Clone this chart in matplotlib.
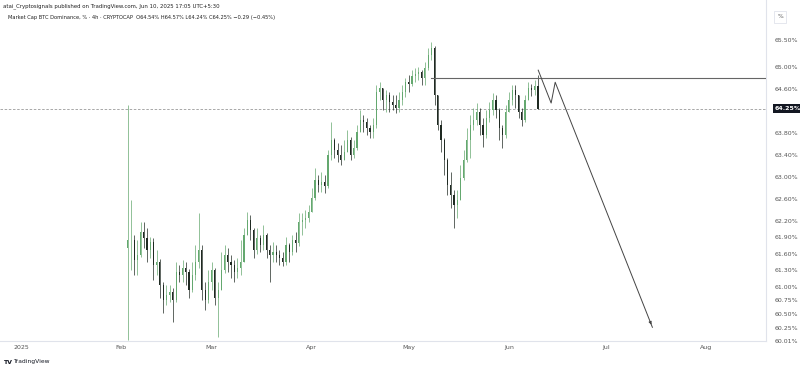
import matplotlib
matplotlib.use("Agg")
import matplotlib.pyplot as plt
import matplotlib.dates as mdates
import matplotlib.transforms as mtransforms
import numpy as np
import pandas as pd

# daily candles, Feb 3 .. Jun 10 2025 (BTC dominance, %)
first_open = 61.70
closes = [
    # Feb 3-28
    61.85, 61.85, 61.49, 61.58, 62.00, 61.89, 61.67, 61.82, 61.40, 61.45, 61.03, 60.76, 60.85,
    60.90, 60.76, 61.27, 61.21, 61.34, 61.27, 60.94, 61.21, 61.45, 61.67, 60.94, 60.76, 61.09,
    # Mar
    61.31, 60.79, 60.94, 61.31, 61.58, 61.45, 61.40, 61.27, 61.34, 61.45, 61.94, 62.22, 62.03,
    61.67, 61.89, 61.76, 61.94, 61.67, 61.58, 61.63, 61.58, 61.52, 61.45, 61.76, 61.63, 61.85,
    61.80, 62.18, 62.22, 62.25, 62.36,
    # Apr
    62.62, 62.95, 62.86, 62.91, 62.84, 63.40, 63.68, 63.49, 63.40, 63.31, 63.46, 63.68, 63.40,
    63.53, 63.82, 64.04, 64.00, 63.90, 63.82, 63.95, 64.55, 64.62, 64.41, 64.50, 64.37, 64.31,
    64.26, 64.41, 64.55, 64.73,
    # May
    64.70, 64.84, 64.88, 64.92, 64.81, 64.99, 65.23, 65.35, 64.50, 63.95, 63.68, 63.31, 62.86,
    62.67, 62.49, 62.58, 62.98, 63.31, 63.68, 63.95, 64.04, 64.19, 63.95, 63.77, 64.08, 64.22,
    64.41, 64.22, 63.90, 63.77, 64.19,
    # Jun 1-10
    64.41, 64.59, 64.50, 64.19, 64.04, 64.41, 64.62, 64.59, 64.66, 64.25,
]
highs = [
    64.31, 62.58, 61.94, 61.85, 62.18, 62.18, 62.07, 61.91, 61.88, 61.67, 61.50, 61.08, 61.03,
    61.03, 60.98, 61.45, 61.40, 61.49, 61.45, 61.32, 61.45, 61.76, 62.35, 61.76, 61.09, 61.31,
    61.45, 61.34, 61.09, 61.63, 61.76, 61.71, 61.58, 61.49, 61.52, 61.85, 62.07, 62.36, 62.31,
    62.08, 62.07, 61.94, 62.13, 61.98, 61.76, 61.82, 61.76, 61.67, 61.63, 61.91, 61.80, 61.94,
    62.00, 62.35, 62.35, 62.40, 62.49,
    62.80, 63.17, 63.04, 63.09, 63.04, 63.49, 64.00, 63.71, 63.62, 63.59, 63.68, 63.86, 63.73,
    63.68, 63.95, 64.22, 64.13, 64.08, 63.95, 64.08, 64.68, 64.73, 64.62, 64.59, 64.55, 64.50,
    64.50, 64.55, 64.68, 64.81,
    64.86, 64.95, 64.99, 65.01, 64.95, 65.10, 65.35, 65.46, 65.40, 64.50, 64.04, 63.71, 63.35,
    63.09, 62.76, 62.76, 63.22, 63.49, 63.90, 64.13, 64.26, 64.35, 64.26, 64.08, 64.22, 64.37,
    64.53, 64.50, 64.26, 63.95, 64.31,
    64.55, 64.68, 64.68, 64.50, 64.26, 64.50, 64.73, 64.70, 64.77, 64.86,
]
lows = [
    60.03, 61.31, 61.21, 61.21, 61.55, 61.71, 61.45, 61.52, 61.12, 61.21, 60.79, 60.52, 60.67,
    60.72, 60.36, 60.72, 61.09, 61.09, 61.03, 60.79, 60.90, 61.12, 61.34, 60.76, 60.57, 60.70,
    60.94, 60.67, 60.08, 60.94, 61.25, 61.27, 61.16, 61.09, 61.16, 61.21, 61.45, 61.94, 61.85,
    61.52, 61.60, 61.63, 61.67, 61.52, 61.09, 61.45, 61.45, 61.40, 61.38, 61.40, 61.45, 61.58,
    61.63, 61.75, 61.94, 62.07, 62.18,
    62.36, 62.58, 62.73, 62.73, 62.71, 62.80, 63.31, 63.35, 63.27, 63.22, 63.31, 63.46, 63.31,
    63.35, 63.50, 63.82, 63.82, 63.77, 63.71, 63.71, 63.90, 64.41, 64.22, 64.19, 64.19, 64.22,
    64.17, 64.19, 64.31, 64.46,
    64.55, 64.66, 64.73, 64.77, 64.68, 64.68, 64.95, 65.14, 64.31, 63.86, 63.46, 63.04, 62.67,
    62.44, 62.07, 62.25, 62.58, 62.95, 63.28, 63.35, 63.86, 63.95, 63.77, 63.55, 63.71, 64.00,
    64.13, 64.08, 63.68, 63.53, 63.72,
    64.19, 64.31, 64.26, 64.08, 63.93, 64.00, 64.41, 64.48, 64.50, 64.24,
]
start_date = "2025-02-03"

# drawings on the chart
resistance_level = 64.81
resistance_start = "2025-05-08"
last_price = 64.25
proj_dates = ["2025-06-10 02:00", "2025-06-14 02:00", "2025-06-15 08:00", "2025-07-15 10:00"]
proj_values = [64.95, 64.35, 64.73, 60.26]

price_ticks = [65.50, 65.00, 64.60, 63.80, 63.40, 63.00, 62.60, 62.20, 61.90, 61.60,
               61.30, 61.00, 60.75, 60.50, 60.25, 60.01]
month_ticks = ["2025-01-01", "2025-02-01", "2025-03-01", "2025-04-01", "2025-05-01",
               "2025-06-01", "2025-07-01", "2025-08-01"]
month_labels = ["2025", "Feb", "Mar", "Apr", "May", "Jun", "Jul", "Aug"]

UP = "#64a86f"
DOWN = "#1f2a22"
TXT = "#555555"


def draw_candles(ax):
    dates = pd.date_range(start_date, periods=len(closes), freq="D")
    x = mdates.date2num(dates)
    c = np.array(closes)
    o = np.r_[first_open, c[:-1]]
    h = np.array(highs)
    l = np.array(lows)
    colors = np.where(c >= o, UP, DOWN)
    ax.vlines(x, l, h, colors=colors, linewidth=0.5, zorder=3)
    ax.bar(x, np.maximum(np.abs(c - o), 0.01), bottom=np.minimum(o, c), width=0.35,
           color=colors, linewidth=0, zorder=3)


def main():
    fig = plt.figure(figsize=(8, 3.7), dpi=100)
    fig.patch.set_facecolor("white")
    ax = fig.add_axes([0, 29 / 370, 766 / 800, 341 / 370])

    draw_candles(ax)

    x0 = mdates.date2num(pd.Timestamp("2024-12-25 12:00"))
    x1 = mdates.date2num(pd.Timestamp("2025-08-19 14:00"))
    ax.set_xlim(x0, x1)
    ax.set_ylim(60.01, 66.23)

    # last price dashed line + resistance line
    ax.axhline(last_price, color="#9a9a9a", linewidth=0.6, linestyle=(0, (3, 2)), zorder=2)
    xs = mdates.date2num(pd.Timestamp(resistance_start))
    ax.plot([xs, x1], [resistance_level, resistance_level], color="#666666", linewidth=0.8, zorder=4)

    # projected path
    px = mdates.date2num(pd.to_datetime(proj_dates))
    ax.plot(px, proj_values, color="#444444", linewidth=0.7, zorder=4)
    ax.annotate("", xy=(px[-1], proj_values[-1]), xytext=(px[-2] + (px[-1] - px[-2]) * 0.97,
                proj_values[-2] + (proj_values[-1] - proj_values[-2]) * 0.97),
                arrowprops=dict(arrowstyle="-|>", color="#444444", lw=0.7,
                                mutation_scale=4), zorder=4)

    # axes styling
    for side in ["top", "left"]:
        ax.spines[side].set_visible(False)
    for side in ["right", "bottom"]:
        ax.spines[side].set_color("#e0e3eb")
        ax.spines[side].set_linewidth(0.8)

    ax.yaxis.tick_right()
    ax.set_yticks(price_ticks)
    ax.set_yticklabels([f"{v:.2f}%" for v in price_ticks])
    ax.tick_params(axis="y", length=0, pad=6.5, labelsize=4.5, labelcolor=TXT)

    ax.set_xticks(mdates.date2num(pd.to_datetime(month_ticks)))
    ax.set_xticklabels(month_labels)
    ax.tick_params(axis="x", length=0, pad=3, labelsize=4.5, labelcolor=TXT)

    # last price box on the price scale
    trans = mtransforms.blended_transform_factory(ax.transAxes, ax.transData)
    ax.text(1.0115, last_price, f"{last_price:.2f}%", transform=trans, fontsize=4.5,
            color="white", fontweight="bold", va="center", ha="left",
            bbox=dict(boxstyle="square,pad=0.25", fc="#131722", ec="none"), zorder=6,
            clip_on=False)

    # header / footer texts
    fig.text(3 / 800, 1 - 6 / 370, "atai_Cryptosignals published on TradingView.com, Jun 10, 2025 17:05 UTC+5:30",
             fontsize=3.9, color="#222222", va="center", ha="left")
    fig.text(8 / 800, 1 - 17 / 370,
             "Market Cap BTC Dominance, % \u00b7 4h \u00b7 CRYPTOCAP  O64.54% H64.57% L64.24% C64.25% \u22120.29 (\u22120.45%)",
             fontsize=3.7, color="#222222", va="center", ha="left")
    fig.text(780 / 800, 1 - 17 / 370, "%", fontsize=4.3, color=TXT, va="center", ha="center",
             bbox=dict(boxstyle="square,pad=0.6", fc="white", ec="#e0e3eb", lw=0.6))
    fig.text(3 / 800, 1 - 362 / 370, "TV", fontsize=4.5, fontweight="bold", color="#131722",
             va="center", ha="left")
    fig.text(13 / 800, 1 - 362 / 370, "TradingView", fontsize=4.3, color="#131722",
             va="center", ha="left")

    fig.savefig("out.png", dpi=100, facecolor="white")


if __name__ == "__main__":
    main()
